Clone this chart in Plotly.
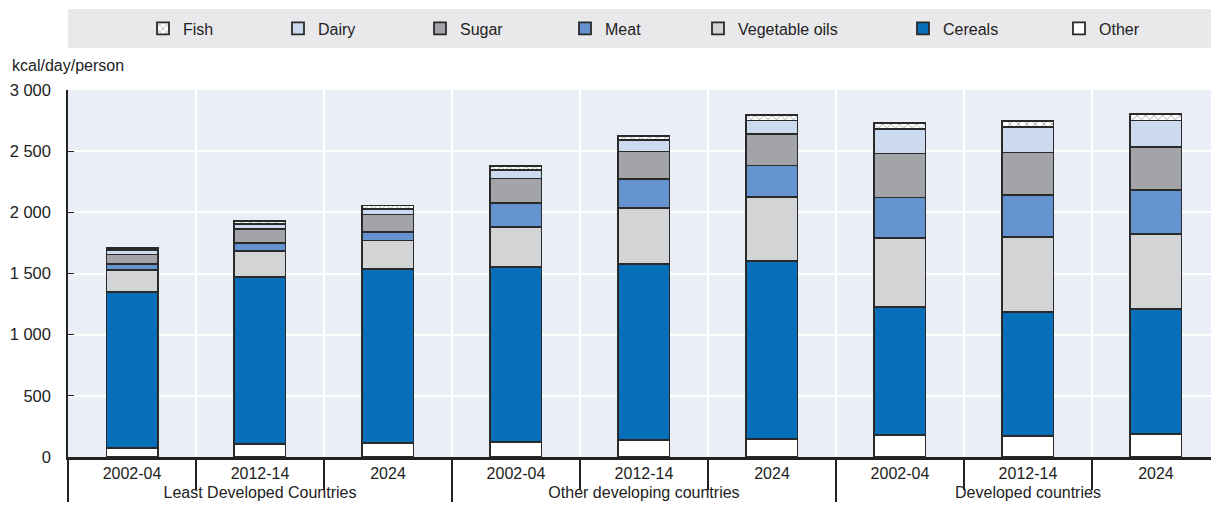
import plotly.graph_objects as go

groups = ["Least Developed Countries"] * 3 + ["Other developing countries"] * 3 + ["Developed countries"] * 3
periods = ["2002-04", "2012-14", "2024"] * 3

other = [76, 104, 114, 122, 139, 147, 182, 172, 185]
cereals = [1272, 1369, 1422, 1433, 1438, 1452, 1046, 1015, 1024]
vegoils = [180, 213, 234, 324, 457, 528, 559, 613, 613]
meat = [51, 65, 71, 199, 237, 256, 335, 341, 359]
sugar = [77, 112, 142, 199, 227, 258, 359, 348, 354]
dairy = [35, 41, 43, 68, 92, 110, 199, 210, 216]
fish = [19, 27, 30, 32, 33, 43, 51, 49, 51]

y_ticks = [0, 500, 1000, 1500, 2000, 2500, 3000]

FONT = "Liberation Sans, Arial, Helvetica, sans-serif"
OUTLINE = "#2a2a2a"
W, H = 1211, 511

# name, values, colour, pattern, legend text start (px)
series = [
    ("Other", other, "#ffffff", None, 1094),
    ("Cereals", cereals, "#0570b9", None, 938),
    ("Vegetable oils", vegoils, "#d3d4d6", None, 733),
    ("Meat", meat, "#6593cf", None, 600),
    ("Sugar", sugar, "#a3a4a7", None, 455),
    ("Dairy", dairy, "#ccdaf0", None, 313),
    ("Fish", fish, "#ffffff", "x", 178),
]

fig = go.Figure()
x = [groups, periods]
layout_legends = {}
for i, (name, vals, color, pat, tx) in enumerate(series):
    marker = dict(color=color, line=dict(color=OUTLINE, width=1.8))
    if pat:
        marker["pattern"] = dict(shape=pat, size=6, solidity=0.25, fgcolor="#333333", bgcolor="#ffffff")
    lg = "legend" if i == 0 else f"legend{i + 1}"
    fig.add_trace(go.Bar(name=name, x=x, y=vals, marker=marker, width=0.4, legend=lg,
                         showlegend=True))
    layout_legends[lg] = dict(orientation="h", xref="container", yref="container",
                              x=(tx - 35) / W, xanchor="left",
                              y=1 - 28.5 / H, yanchor="middle",
                              bgcolor="rgba(0,0,0,0)", borderwidth=0,
                              font=dict(family=FONT, size=16, color="#222222"))

# legend background band
fig.add_shape(type="rect", xref="paper", yref="paper", x0=0, x1=1, y0=1.1144, y1=1.2207,
              fillcolor="#e9e9ec", line=dict(width=0), layer="below")

fig.add_annotation(text="kcal/day/person", xref="paper", yref="paper", x=-0.0507, y=1.068,
                   xanchor="left", yanchor="middle", showarrow=False,
                   font=dict(family=FONT, size=16, color="#222222"))

fig.update_layout(
    width=W, height=H,
    showlegend=True,
    margin=dict(l=68, r=0, t=90, b=54, autoexpand=False),
    barmode="stack",
    bargap=0.6,
    paper_bgcolor="#ffffff",
    plot_bgcolor="#e9eef7",
    separators=". ",
    font=dict(family=FONT, size=16, color="#222222"),
    xaxis=dict(type="multicategory", range=[-0.5, 8.43], automargin=False, showgrid=True,
               gridcolor="#ffffff", gridwidth=2, tickson="boundaries", ticks="outside", ticklen=30,
               tickcolor="#222222", tickwidth=1.5, ticklabelstandoff=0, showline=True,
               linecolor="#222222", linewidth=2.5,
               showdividers=True, dividercolor="#222222", dividerwidth=1.5,
               tickfont=dict(family=FONT, size=16, color="#222222")),
    yaxis=dict(range=[0, 3000], tickvals=y_ticks, tickformat=",d", automargin=False, showgrid=True,
               gridcolor="#ffffff", gridwidth=2, zeroline=False, showline=True,
               linecolor="#222222", linewidth=1.5, ticks="inside", ticklen=6,
               tickcolor="#222222", ticklabelstandoff=12,
               tickfont=dict(family=FONT, size=16.5, color="#222222")),
    **layout_legends,
)

fig.write_html("out.html", config={"displayModeBar": False},
               post_script="document.body.style.margin='0';document.body.style.overflow='hidden';")
